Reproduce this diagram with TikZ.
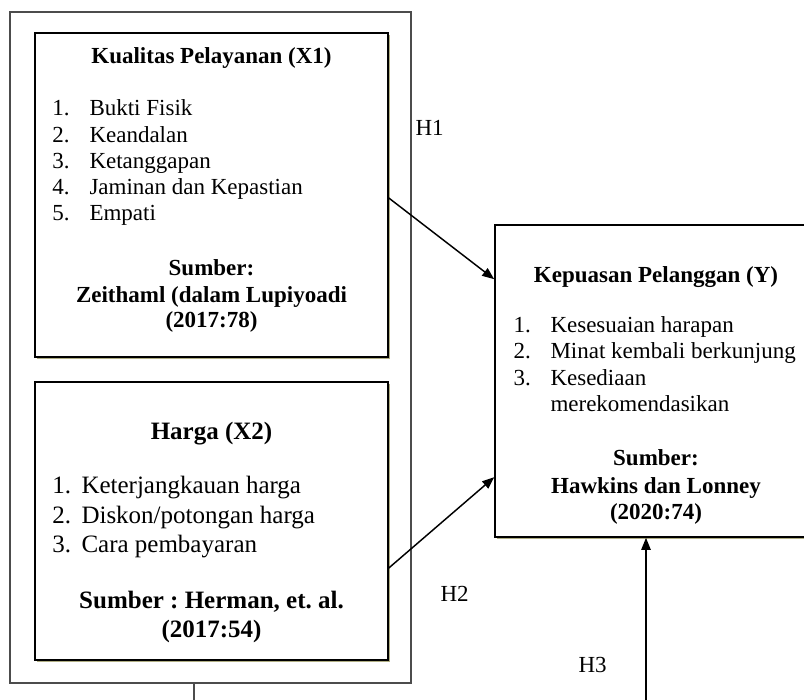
\documentclass[tikz,border=0pt]{standalone}
\usepackage{fontspec}
\setmainfont{Liberation Serif}
\usetikzlibrary{arrows.meta,calc,shadows}
\frenchspacing

\tikzset{every picture/.style={line width=0.75pt}}
\tikzset{
  varbox/.style={draw, line width=1.2pt, inner sep=0pt, fill=white,
    drop shadow={shadow xshift=1.2pt, shadow yshift=-1.2pt, fill=olive!45!gray, opacity=0.7}},
  groupbox/.style={draw=black!70, line width=0.8pt, inner sep=0pt},
  conn/.style={line width=1.1pt, -{Triangle[length=9pt,width=7pt]}},
  txt/.style={inner sep=0pt, font=\fontsize{17.25}{20}\selectfont},
  txtl/.style={inner sep=0pt, font=\fontsize{18.75}{22}\selectfont},
  head/.style={txt, font=\fontsize{17.25}{20}\selectfont\bfseries, anchor=base},
  headl/.style={txtl, font=\fontsize{18.75}{22}\selectfont\bfseries, anchor=base},
  item/.style={txt, anchor=base west},
  iteml/.style={txtl, anchor=base west},
}

\begin{document}
\begin{tikzpicture}[x=0.75pt,y=0.75pt,yscale=-1,xscale=1]
\clip (0,0) rectangle (804,700);
%Shape: outer group box
\node[groupbox, minimum width=300.75pt, minimum height=503.25pt] (grp) at (210.5,347.5) {};
%Shape: box X1
\node[varbox, minimum width=264.75pt, minimum height=243pt] (x1) at (211.5,195) {};
%Shape: box X2
\node[varbox, minimum width=264.75pt, minimum height=208.5pt] (x2) at (211.5,521) {};
%Shape: box Y
\node[varbox, minimum width=241.5pt, minimum height=234pt] (y) at (656,381) {};

% Text X1
\node[head] (x1t) at (211.5,63) {Kualitas Pelayanan (X1)};
\node[item] (x1n1) at (52,115) {1.};
\node[item] (x1i1) at (89,115) {Bukti Fisik};
\node[item] (x1n2) at (52,142) {2.};
\node[item] (x1i2) at (89,142) {Keandalan};
\node[item] (x1n3) at (52,168) {3.};
\node[item] (x1i3) at (89,168) {Ketanggapan};
\node[item] (x1n4) at (52,194) {4.};
\node[item] (x1i4) at (89,194) {Jaminan dan Kepastian};
\node[item] (x1n5) at (52,220) {5.};
\node[item] (x1i5) at (89,220) {Empati};
\node[head] (x1s1) at (211.5,275) {Sumber:};
\node[head] (x1s2) at (211.5,302) {Zeithaml (dalam Lupiyoadi};
\node[head] (x1s3) at (211.5,327) {(2017:78)};

% Text X2
\node[headl] (x2t) at (211.5,439) {Harga (X2)};
\node[iteml] (x2n1) at (52,493) {1.};
\node[iteml] (x2i1) at (81,493) {Keterjangkauan harga};
\node[iteml] (x2n2) at (52,523) {2.};
\node[iteml] (x2i2) at (81,523) {Diskon/potongan harga};
\node[iteml] (x2n3) at (52,552) {3.};
\node[iteml] (x2i3) at (81,552) {Cara pembayaran};
\node[headl] (x2s1) at (211.5,608) {Sumber : Herman, et. al.};
\node[headl] (x2s2) at (211.5,637) {(2017:54)};

% Text Y
\node[head] (yt) at (656,282) {Kepuasan Pelanggan (Y)};
\node[item] (yn1) at (513,332) {1.};
\node[item] (yi1) at (550,332) {Kesesuaian harapan};
\node[item] (yn2) at (513,358) {2.};
\node[item] (yi2) at (550,358) {Minat kembali berkunjung};
\node[item] (yn3) at (513,385) {3.};
\node[item] (yi3) at (550,385) {Kesediaan};
\node[item] (yi3b) at (550,411) {merekomendasikan};
\node[head] (ys1) at (656,465) {Sumber:};
\node[head] (ys2) at (656,493) {Hawkins dan Lonney};
\node[head] (ys3) at (656,519) {(2020:74)};

% Hypothesis labels
\node[item] (h1) at (415,135) {H1};
\node[item] (h2) at (440,601) {H2};
\node[item] (h3) at (578,672) {H3};

% Connectors
\coordinate (h3s) at (646,700);
\coordinate (grpout) at (194,700);
\draw[conn] ($(x1.east)+(0,3)$) -- ($(y.north west)+(0,55)$);
\draw[conn] ($(x2.east)+(0,47)$) -- ($(y.north west)+(0,253)$);
\draw[conn] (h3s) -- (h3s |- y.south);
\draw[draw=black!70, line width=0.8pt] (grp.south -| grpout) -- (grpout);

\end{tikzpicture}
\end{document}
